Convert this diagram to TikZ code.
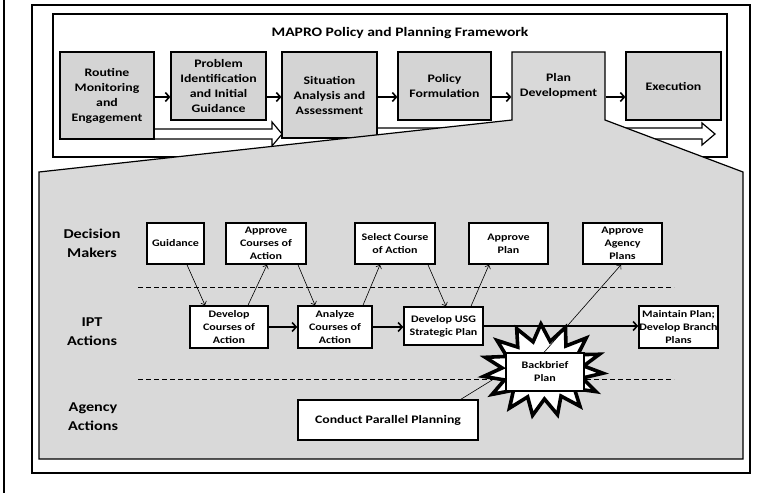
\documentclass[tikz,border=0pt]{standalone}
\usepackage{fontspec}
\setmainfont{Carlito}[FakeStretch=1.2]
\usetikzlibrary{arrows.meta}

\begin{document}
\begin{tikzpicture}[x=1pt,y=-1pt,
topbox/.style = {draw, line width=1.2pt, fill=black!17, align=center, inner sep=1pt,
    font=\bfseries\fontsize{11.5}{15}\selectfont},
actbox/.style = {draw, line width=1.6pt, fill=white, align=center, inner sep=1pt,
    minimum width=79pt, minimum height=41pt, font=\bfseries\fontsize{10}{13}\selectfont},
rowlabel/.style = {align=center, font=\bfseries\fontsize{13.5}{19}\selectfont},
flow/.style = {line width=1.6pt, -{Straight Barb[length=4pt,width=9pt]}},
link/.style = {line width=0.6pt, -{Straight Barb[length=3pt,width=6pt]}},
bigarrow/.style = {draw, line width=1.2pt, fill=white, line join=miter},
divider/.style = {line width=0.6pt, dash pattern=on 5pt off 3pt}]
\useasboundingbox (0,0) rectangle (762,493);
\draw[line width=1.5pt] (4,0) -- (4,493);
\draw[line width=1.4pt] (32,5) rectangle (750,473);
\draw[line width=1.2pt] (53,14) rectangle (727,157);
\node[font=\bfseries\fontsize{13}{15}\selectfont] (title) at (400,33) {MAPRO Policy and Planning Framework};
\draw[bigarrow] (100,129) -- (272,129) -- (272,122) -- (282,134) -- (272,146) -- (272,139) -- (100,139) -- cycle;
\draw[bigarrow] (340,128) -- (702,128) -- (702,123) -- (715,134) -- (702,145) -- (702,139) -- (340,139) -- cycle;
\node[topbox, minimum width=94pt, minimum height=87pt] (rme) at (107,95.5) {Routine\\Monitoring\\and\\Engagement};
\node[topbox, minimum width=95pt, minimum height=68pt] (pig) at (218.5,86) {Problem\\Identification\\and Initial\\Guidance};
\node[topbox, minimum width=95pt, minimum height=86pt] (saa) at (329.5,95) {Situation\\Analysis and\\Assessment};
\node[topbox, minimum width=93pt, minimum height=68pt] (pol) at (444.5,86) {Policy\\Formulation};
\node[topbox, minimum width=95pt, minimum height=68pt] (exe) at (673.5,86) {Execution};
\draw[line width=1.2pt, fill=black!15] (512,52) -- (605,52) -- (605,120) -- (743,172) -- (743,459)
    -- (39,459) -- (39,172) -- (512,120) -- cycle;
\node[topbox, draw=none, fill=none, minimum width=93pt, minimum height=68pt] (plan) at (558.5,86) {Plan\\Development};
\coordinate (ay) at (0,97);
\draw[flow] (rme.east |- ay) -- (pig.west |- ay);
\draw[flow] (pig.east |- ay) -- (saa.west |- ay);
\draw[flow] (saa.east |- ay) -- (pol.west |- ay);
\draw[flow] (pol.east |- ay) -- (plan.west |- ay);
\draw[flow] (plan.east |- ay) -- (exe.west |- ay);
\node[rowlabel] (dm) at (92,243) {Decision\\Makers};
\node[rowlabel] (ipt) at (92,332) {IPT\\Actions};
\node[rowlabel] (ag) at (93,417) {Agency\\Actions};
\draw[divider] (138,287) -- (674,287);
\draw[divider] (138,379) -- (674,379);
\node[actbox, minimum width=57pt] (guid) at (175.5,243.5) {Guidance};
\node[actbox, minimum width=80pt] (apcoa) at (266,243.5) {Approve\\Courses of\\Action};
\node[actbox, minimum width=80pt] (selcoa) at (395,243.5) {Select Course\\of Action};
\node[actbox] (applan) at (508.5,243.5) {Approve\\Plan};
\node[actbox] (apag) at (622.5,243.5) {Approve\\Agency\\Plans};
\node[actbox, minimum width=78pt, minimum height=42pt] (devcoa) at (229,327) {Develop\\Courses of\\Action};
\node[actbox, minimum width=74pt, minimum height=42pt] (anacoa) at (335,327) {Analyze\\Courses of\\Action};
\node[actbox, minimum height=38pt] (devusg) at (443.5,326) {Develop USG\\Strategic Plan};
\node[actbox, minimum height=42pt, inner xsep=0pt] (maint) at (678.5,327) {Maintain Plan;\\Develop Branch\\Plans};
\node[actbox, minimum width=180pt, minimum height=40pt, font=\bfseries\fontsize{11.5}{14}\selectfont] (cpp) at (388,420) {Conduct Parallel Planning};
\draw[link] ([xshift=11.5pt]guid.south) -- ([xshift=-24pt]devcoa.north);
\draw[link] ([xshift=19pt]devcoa.north) -- ([xshift=1pt]apcoa.south);
\draw[link] ([xshift=32pt]apcoa.south) -- ([xshift=-20pt]anacoa.north);
\draw[link] ([xshift=28pt]anacoa.north) -- ([xshift=-15pt]selcoa.south);
\draw[link] ([xshift=33pt]selcoa.south) -- ([xshift=2.5pt]devusg.north);
\draw[link] ([xshift=27.5pt]devusg.north) -- ([xshift=-19.5pt]applan.south);
\draw[flow] (devcoa) -- (anacoa);
\draw[flow] (anacoa.east) -- (anacoa.east -| devusg.west);
\draw[flow] (devusg.east) -- (devusg.east -| maint.west);
\coordinate (bbin) at (510,369);
\draw[link] ([xshift=73pt]cpp.north) -- (bbin);
\draw[line width=3.6pt, fill=white, line join=miter, miter limit=20]
    plot[domain=0:29, samples=30, variable=\k]
    ({543+(60-19*mod(\k,2))*cos(\k*12+4)}, {370+(46-17*mod(\k,2))*sin(\k*12+4)}) -- cycle;
\node[actbox, line width=1.2pt, minimum width=78pt, minimum height=38pt] (bb) at (545,372) {Backbrief\\Plan};
\draw[link] ([xshift=-1pt]bb.north) -- ([xshift=-1.5pt]apag.south);
\end{tikzpicture}
\end{document}
